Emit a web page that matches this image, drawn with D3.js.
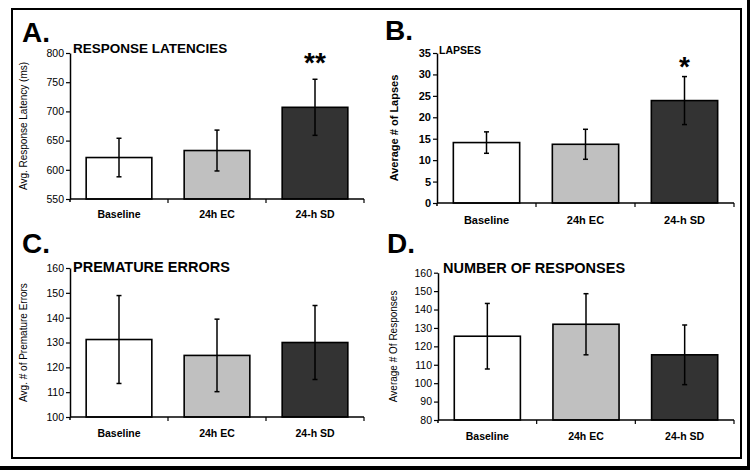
<!DOCTYPE html>
<html><head><meta charset="utf-8">
<script src="https://cdn.jsdelivr.net/npm/d3@7"></script>
<style>body{margin:0;background:#fff}svg{display:block}</style>
</head><body><svg id="c" width="750" height="470"></svg>
<script>
const categories = ["Baseline", "24h EC", "24-h SD"];
const colors = ["#ffffff", "#c0c0c0", "#333333"];

const latencyMeans = [621, 633, 707];
const latencyErr = [33, 35, 48];
const latencyTicks = [550, 600, 650, 700, 750, 800];

const lapsesMeans = [14.1, 13.7, 23.9];
const lapsesErr = [2.5, 3.5, 5.6];
const lapsesTicks = [0, 5, 10, 15, 20, 25, 30, 35];

const prematureMeans = [131.2, 124.8, 130];
const prematureErr = [17.7, 14.6, 14.9];
const prematureTicks = [100, 110, 120, 130, 140, 150, 160];

const responsesMeans = [125.5, 132, 115.4];
const responsesErr = [17.8, 16.6, 16.2];
const responsesTicks = [80, 90, 100, 110, 120, 130, 140, 150, 160];

const panels = [
  {letter:"A.", title:"RESPONSE LATENCIES", ylabel:"Avg. Response Latency (ms)", means:latencyMeans, err:latencyErr, ticks:latencyTicks,
   x0:70, x1:364, y0:53, y1:199, lx:22, ly:42, tx:73, ty:53, tsize:13.5, ylx:27, tickBold:false, boldY:false, sig:["","","**"], xly:218, xls:10.5, tickSize:10.5, ys:10},
  {letter:"B.", title:"LAPSES", ylabel:"Average # of Lapses", means:lapsesMeans, err:lapsesErr, ticks:lapsesTicks,
   x0:437, x1:734, y0:53, y1:203, lx:385, ly:40, tx:439, ty:54, tsize:10.5, ylx:398, tickBold:true, boldY:true, sig:["","","*"], xly:224, xls:11, tickSize:11, ys:11},
  {letter:"C.", title:"PREMATURE ERRORS", ylabel:"Avg. # of Premature Errors", means:prematureMeans, err:prematureErr, ticks:prematureTicks,
   x0:70, x1:364, y0:268, y1:417, lx:22, ly:253, tx:73, ty:272, tsize:14.5, ylx:27, tickBold:false, boldY:false, sig:["","",""], xly:437, xls:10.5, tickSize:10.5, ys:10},
  {letter:"D.", title:"NUMBER OF RESPONSES", ylabel:"Average # Of Responses", means:responsesMeans, err:responsesErr, ticks:responsesTicks,
   x0:438, x1:734, y0:272.7, y1:420, lx:387, ly:253, tx:443, ty:273, tsize:14.5, ylx:397, tickBold:false, boldY:false, sig:["","",""], xly:440, xls:10.5, tickSize:10.5, ys:10}
];

const svg = d3.select("#c");
const FONT = "'Liberation Sans', Arial, sans-serif";

// frame
svg.append("rect").attr("x",12).attr("y",9).attr("width",729).attr("height",449)
  .attr("fill","none").attr("stroke","#000").attr("stroke-width",2);
svg.append("rect").attr("x",747).attr("y",0).attr("width",3).attr("height",470).attr("fill","#000");
svg.append("rect").attr("x",0).attr("y",466).attr("width",750).attr("height",4).attr("fill","#000");

panels.forEach(p => {
  const g = svg.append("g");
  const y = d3.scaleLinear().domain([p.ticks[0], p.ticks[p.ticks.length-1]]).range([p.y1, p.y0]);
  const xb = d3.scaleBand().domain(categories).range([p.x0, p.x1]).paddingInner(0.33).paddingOuter(0.165);
  const xc = d3.scaleBand().domain(categories).range([p.x0, p.x1]).padding(0);

  // bars
  g.selectAll("rect.bar").data(categories).join("rect")
    .attr("x", d => xb(d)).attr("width", xb.bandwidth())
    .attr("y", (d,i) => y(p.means[i])).attr("height", (d,i) => p.y1 - y(p.means[i]))
    .attr("fill", (d,i) => colors[i]).attr("stroke","#000").attr("stroke-width",1.6);

  // error bars
  categories.forEach((d,i) => {
    const cx = xb(d) + xb.bandwidth()/2;
    const hi = y(p.means[i] + p.err[i]), lo = y(p.means[i] - p.err[i]);
    g.append("line").attr("x1",cx).attr("x2",cx).attr("y1",hi).attr("y2",lo).attr("stroke","#000").attr("stroke-width",1.5);
    [hi, lo].forEach(v => g.append("line").attr("x1",cx-2.5).attr("x2",cx+2.5).attr("y1",v).attr("y2",v).attr("stroke","#000").attr("stroke-width",1.5));
    if (p.sig[i]) {
      g.append("text").attr("x",cx).attr("y", p.sig[i].length > 1 ? 72 : 76).attr("text-anchor","middle")
        .attr("font-family",FONT).attr("font-weight","bold").attr("font-size",28).text(p.sig[i]);
    }
  });

  // y axis
  const ya = d3.axisLeft(y).tickValues(p.ticks).tickSize(4).tickSizeOuter(0).tickFormat(d3.format("d"));
  const yg = g.append("g").attr("transform",`translate(${p.x0},0)`).call(ya);
  yg.select(".domain").attr("stroke","#000").attr("stroke-width",1.5);
  yg.selectAll(".tick line").attr("stroke","#000").attr("stroke-width",1.2);
  yg.selectAll(".tick text").attr("font-family",FONT).attr("font-size",p.tickSize)
    .attr("font-weight",p.tickBold?"bold":"normal").attr("fill","#000").attr("x",-6);

  // x axis
  g.append("line").attr("x1",p.x0).attr("x2",p.x1).attr("y1",p.y1).attr("y2",p.y1).attr("stroke","#000").attr("stroke-width",1.5);
  const bounds = categories.slice(1).map(c => xc(c)).concat([p.x1]);
  bounds.forEach(bx => g.append("line").attr("x1",bx).attr("x2",bx).attr("y1",p.y1).attr("y2",p.y1+4).attr("stroke","#000").attr("stroke-width",1.2));
  g.append("line").attr("x1",p.x0).attr("x2",p.x0).attr("y1",p.y1).attr("y2",p.y1+3).attr("stroke","#000").attr("stroke-width",1.5);
  g.selectAll("text.xl").data(categories).join("text")
    .attr("x", d => xc(d) + xc.bandwidth()/2).attr("y", p.xly).attr("text-anchor","middle")
    .attr("font-family",FONT).attr("font-weight","bold").attr("font-size",p.xls).text(d => d);

  // titles
  g.append("text").attr("x",p.lx).attr("y",p.ly).attr("font-family",FONT).attr("font-weight","bold").attr("font-size",28).text(p.letter);
  g.append("text").attr("x",p.tx).attr("y",p.ty).attr("font-family",FONT).attr("font-weight","bold").attr("font-size",p.tsize).text(p.title);
  g.append("text").attr("transform",`translate(${p.ylx},${(p.y0+p.y1)/2}) rotate(-90)`).attr("text-anchor","middle")
    .attr("font-family",FONT).attr("font-weight",p.boldY?"bold":"normal").attr("font-size",p.ys).text(p.ylabel);
});
</script></body></html>
